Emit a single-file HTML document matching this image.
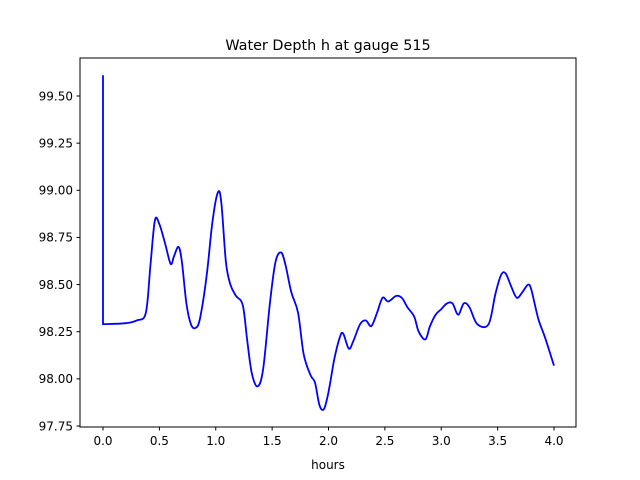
<!DOCTYPE html>
<html><head><meta charset="utf-8"><style>
body{margin:0;background:#fff;}
svg{display:block;font-family:"DejaVu Sans","Liberation Sans",sans-serif;}
</style></head><body>
<svg id="chart" width="640" height="480" viewBox="0 0 640 480">
<rect width="640" height="480" fill="#fff"/>
<text x="328" y="50" font-size="14.4" text-anchor="middle">Water Depth h at gauge 515</text>
<g id="ticks"></g>
<path id="line" fill="none" stroke="#0000ff" stroke-width="1.8" stroke-linejoin="round"/>
<rect x="80" y="58" width="496" height="369" fill="none" stroke="#000" stroke-width="1"/>
<text x="328" y="469" font-size="12" text-anchor="middle">hours</text>
</svg>
<script>
const hours=[0,0,0.2,0.3,0.38,0.42,0.46,0.5,0.55,0.6,0.63,0.67,0.7,0.74,0.78,0.82,0.86,0.92,0.97,1.02,1.05,1.09,1.13,1.18,1.24,1.28,1.32,1.37,1.42,1.48,1.53,1.58,1.62,1.67,1.73,1.78,1.84,1.88,1.92,1.96,2.0,2.05,2.1,2.13,2.18,2.22,2.28,2.33,2.38,2.43,2.48,2.53,2.6,2.65,2.7,2.76,2.8,2.86,2.9,2.95,3.0,3.05,3.1,3.15,3.2,3.25,3.32,3.42,3.48,3.53,3.57,3.62,3.67,3.72,3.77,3.8,3.86,3.92,4.0];
const depth=[99.61,98.29,98.295,98.31,98.35,98.6,98.84,98.82,98.72,98.61,98.65,98.70,98.62,98.4,98.29,98.27,98.32,98.55,98.83,98.99,98.93,98.62,98.5,98.44,98.39,98.2,98.03,97.96,98.05,98.4,98.62,98.67,98.6,98.46,98.35,98.13,98.02,97.98,97.86,97.84,97.93,98.1,98.22,98.24,98.16,98.2,98.29,98.31,98.28,98.35,98.43,98.41,98.44,98.43,98.38,98.33,98.25,98.21,98.28,98.34,98.37,98.4,98.4,98.34,98.4,98.38,98.29,98.29,98.45,98.55,98.56,98.49,98.43,98.46,98.5,98.47,98.32,98.22,98.07];
const xTicks=[0,0.5,1,1.5,2,2.5,3,3.5,4];
const xTickLabels=["0.0","0.5","1.0","1.5","2.0","2.5","3.0","3.5","4.0"];
const yTicks=[97.75,98,98.25,98.5,98.75,99,99.25,99.5];
const yTickLabels=["97.75","98.00","98.25","98.50","98.75","99.00","99.25","99.50"];
const xs=t=>103+t*112.75;
const ys=v=>426-(v-97.75)*188.57;
const NS="http://www.w3.org/2000/svg";
const g=document.getElementById('ticks');
function mk(tag,attrs){const e=document.createElementNS(NS,tag);for(const k in attrs)e.setAttribute(k,attrs[k]);return e;}
xTicks.forEach((t,i)=>{
  const l=mk('line',{x1:xs(t),x2:xs(t),y1:427,y2:430.5,stroke:'#000'});
  
  
  g.appendChild(l);
  const tx=mk('text',{x:xs(t),y:445,'font-size':12,'text-anchor':'middle'});
  
  
  tx.textContent=xTickLabels[i];g.appendChild(tx);
});
yTicks.forEach((v,i)=>{
  const l=mk('line',{x1:76.5,x2:80,y1:ys(v),y2:ys(v),stroke:'#000'});
  
  
  g.appendChild(l);
  const tx=mk('text',{x:73,y:ys(v)+4.3,'font-size':12,'text-anchor':'end'});
  
  
  tx.textContent=yTickLabels[i];g.appendChild(tx);
});
const P=hours.map((t,i)=>[xs(t),ys(depth[i])]);
let d='M'+P[0][0].toFixed(1)+','+P[0][1].toFixed(1)+' L'+P[1][0].toFixed(1)+','+P[1][1].toFixed(1);
for(let i=1;i<P.length-1;i++){
  const p0=P[Math.max(1,i-1)],p1=P[i],p2=P[i+1],p3=P[Math.min(P.length-1,i+2)];
  const c1=[p1[0]+(p2[0]-p0[0])/6,p1[1]+(p2[1]-p0[1])/6];
  const c2=[p2[0]-(p3[0]-p1[0])/6,p2[1]-(p3[1]-p1[1])/6];
  d+=' C'+c1[0].toFixed(1)+','+c1[1].toFixed(1)+' '+c2[0].toFixed(1)+','+c2[1].toFixed(1)+' '+p2[0].toFixed(1)+','+p2[1].toFixed(1);
}
document.getElementById('line').setAttribute('d',d);
</script>
</body></html>
